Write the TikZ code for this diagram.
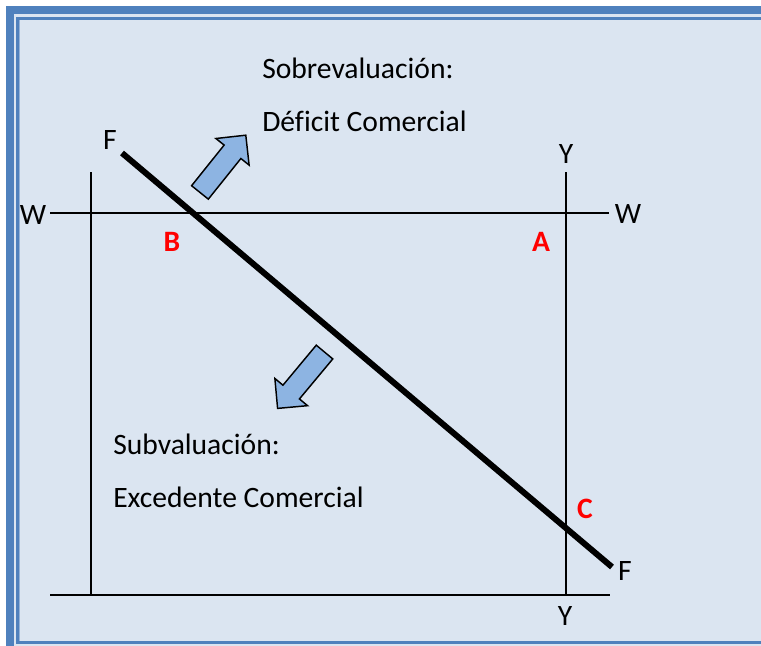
\documentclass[tikz,border=0pt]{standalone}
\usepackage{fontspec}
\setmainfont{Carlito}[Ligatures=NoCommon]
\usetikzlibrary{shapes.arrows, positioning}
\definecolor{framebl}{HTML}{4F81BD}
\definecolor{framelt}{HTML}{95B3D7}
\definecolor{paper}{HTML}{DBE5F1}
\definecolor{arrowbl}{HTML}{8DB4E2}

\begin{document}
\begin{tikzpicture}[x=0.75pt, y=-0.75pt,
    every node/.style={font=\fontsize{22.2}{26}\selectfont, inner sep=0pt},
    axis/.style={line width=1.5pt},
    fline/.style={line width=4.5pt},
    ptlabel/.style={text=red, font=\fontsize{22.2}{26}\selectfont\bfseries},
    bigarrow/.style={single arrow, draw, fill=arrowbl, line width=1.1pt, inner sep=7.5pt,
        minimum height=55pt, single arrow head extend=7.9pt}]
    \useasboundingbox (0,0) rectangle (761,646);
    % frame
    \fill[white] (0,0) rectangle (761,646);
    \fill[paper] (6,6) rectangle (761,646);
    \fill[framebl] (6,6) rectangle (14,646);
    \fill[framebl] (6,6) rectangle (761,14);
    \fill[framebl] (16,17) rectangle (761,20);
    \fill[framebl] (16,17) rectangle (19,644);
    \fill[framebl] (16,641) rectangle (761,644);
    \fill[framelt] (19,20) rectangle (20,641);

    % axes
    \coordinate (wl) at (50,213);
    \coordinate (wr) at (609,213);
    \coordinate (yl) at (91,172);
    \coordinate (ylb) at (91,595);
    \coordinate (yr) at (566,172);
    \coordinate (yrb) at (566,595);
    \coordinate (bl) at (50,595);
    \coordinate (br) at (610,595);
    \coordinate (ft) at (122,153);
    \coordinate (fb) at (612,567);
    \draw[axis] (wl) -- (wr);
    \draw[axis] (yl) -- (ylb);
    \draw[axis] (yr) -- (yrb);
    \draw[axis] (bl) -- (br);
    \draw[fline] (ft) -- (fb);

    \node (wa) at (33,215) {W};
    \node (wb) at (628,214) {W};
    \node (ya) at (566,154) {Y};
    \node (yb) at (565,616) {Y};
    \node (fa) at (110,140) {F};
    \node (fc) at (625,571) {F};
    \node[ptlabel] (ptb) at (172,242) {B};
    \node[ptlabel] (pta) at (541,242) {A};
    \node[ptlabel] (ptc) at (585,509) {C};

    \node[anchor=base west] (sobre) at (262,78) {Sobrevaluación:};
    \node[anchor=base west] (deficit) at (262,131) {Déficit Comercial};
    \node[anchor=base west] (subva) at (113,454) {Subvaluación:};
    \node[anchor=base west] (exced) at (113,507) {Excedente Comercial};

    \node[bigarrow, rotate=51.3, anchor=tail] (uparr) at (199.5,193) {};
    \node[bigarrow, rotate=230.2, anchor=tail] (downarr) at (325,351.5) {};
\end{tikzpicture}
\end{document}
